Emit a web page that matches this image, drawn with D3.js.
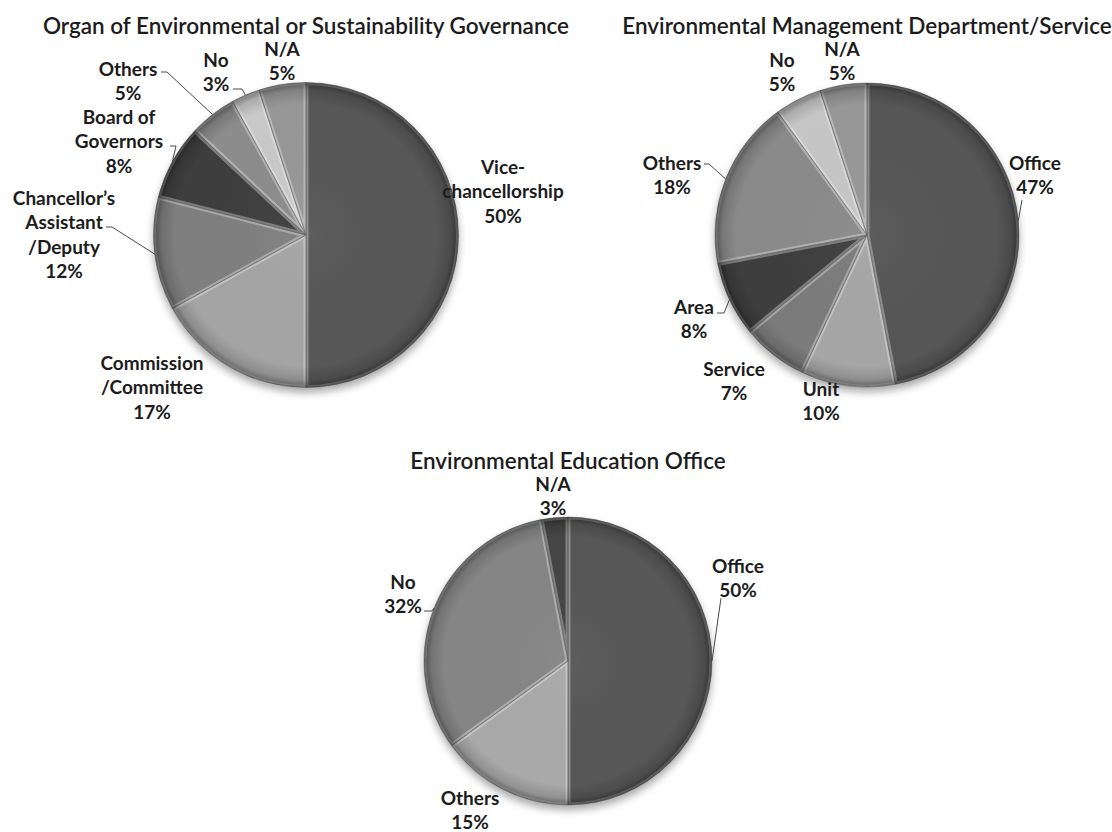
<!DOCTYPE html>
<html>
<head>
<meta charset="utf-8">
<script src="https://cdn.jsdelivr.net/npm/d3@7"></script>
<style>
  body { margin: 0; background: #fff; }
  svg text { font-family: Lato, "Open Sans", sans-serif; fill: #1c1c1c; }
</style>
</head>
<body>
<div id="chart"></div>
<script>
/* DATA */
const governanceTitle = "Organ of Environmental or Sustainability Governance";
const governanceCategories = ["Vice-chancellorship", "Commission/Committee", "Chancellor’s Assistant/Deputy", "Board of Governors", "Others", "No", "N/A"];
const governanceValues = [50, 17, 12, 8, 5, 3, 5];
const governanceLines = [["Vice-", "chancellorship"], ["Commission", "/Committee"], ["Chancellor’s", "Assistant", "/Deputy"], ["Board of", "Governors"], ["Others"], ["No"], ["N/A"]];

const departmentTitle = "Environmental Management Department/Service";
const departmentCategories = ["Office", "Unit", "Service", "Area", "Others", "No", "N/A"];
const departmentValues = [47, 10, 7, 8, 18, 5, 5];
const departmentLines = [["Office"], ["Unit"], ["Service"], ["Area"], ["Others"], ["No"], ["N/A"]];

const educationTitle = "Environmental Education Office";
const educationCategories = ["Office", "Others", "No", "N/A"];
const educationValues = [50, 15, 32, 3];
const educationLines = [["Office"], ["Others"], ["No"], ["N/A"]];

/* STYLES */
const governanceShades = ["#575757", "#a4a4a4", "#7f7f7f", "#3e3e3e", "#8c8c8c", "#c9c9c9", "#979797"];
const departmentShades = ["#565656", "#a6a6a6", "#7b7b7b", "#3e3e3e", "#8a8a8a", "#c6c6c6", "#979797"];
const educationShades = ["#575757", "#a9a9a9", "#858585", "#454545"];

/* LAYOUT - pie placement, label anchors (centre of first line) and leader starts */
const width = 1112, height = 832, lineGap = 24.5;

const charts = [
  {
    title: governanceTitle, cats: governanceCategories, values: governanceValues,
    lines: governanceLines, shades: governanceShades,
    cx: 306, cy: 235, r: 152.5, titleY: 25,
    labelPos: [[503, 166], [152, 362], [64, 197], [119, 116], [128, 68], [216, 59], [282, 48]],
    leaders: [
      { i: 2, pts: [[106, 227], [112, 227]] },
      { i: 3, pts: [[170, 146], [176, 146]] },
      { i: 4, pts: [[161, 72], [167, 72]] },
      { i: 5, pts: [[233, 89], [242, 89]] }
    ]
  },
  {
    title: departmentTitle, cats: departmentCategories, values: departmentValues,
    lines: departmentLines, shades: departmentShades,
    cx: 867, cy: 235, r: 152, titleY: 25,
    labelPos: [[1035, 162], [821, 388], [734, 368], [694, 306], [672, 162], [782, 59], [842, 48]],
    leaders: [
      { i: 0, pts: [[1022, 200]] },
      { i: 3, pts: [[717, 313], [724, 313]] },
      { i: 4, pts: [[704, 164], [709, 164]] }
    ]
  },
  {
    title: educationTitle, cats: educationCategories, values: educationValues,
    lines: educationLines, shades: educationShades,
    cx: 568, cy: 661, r: 144, titleY: 460,
    labelPos: [[738, 565], [470, 797], [403, 581], [553, 483]],
    leaders: [
      { i: 0, pts: [[721, 598]] },
      { i: 2, pts: [[424, 611], [432, 611]] }
    ]
  }
];

const svg = d3.select("#chart")
  .append("svg")
  .attr("width", width)
  .attr("height", height);

const defs = svg.append("defs");

defs.append("filter")
  .attr("id", "blur")
  .attr("x", "-20%").attr("y", "-20%").attr("width", "140%").attr("height", "140%")
  .append("feGaussianBlur")
  .attr("stdDeviation", 4);

// darker rim, like the bevel of the office chart
const rim = defs.append("radialGradient").attr("id", "rim");
rim.append("stop").attr("offset", "0%").attr("stop-color", "#fff").attr("stop-opacity", 0.04);
rim.append("stop").attr("offset", "86%").attr("stop-color", "#000").attr("stop-opacity", 0);
rim.append("stop").attr("offset", "95%").attr("stop-color", "#000").attr("stop-opacity", 0.14);
rim.append("stop").attr("offset", "100%").attr("stop-color", "#000").attr("stop-opacity", 0.42);

const pie = d3.pie().sort(null).value(d => d);

charts.forEach((c, k) => {
  const arcs = pie(c.values);
  const arc = d3.arc().innerRadius(0).outerRadius(c.r);
  const edge = d3.arc().innerRadius(c.r).outerRadius(c.r);
  const color = d3.scaleOrdinal().domain(c.cats).range(c.shades);

  const g = svg.append("g").attr("transform", `translate(${c.cx},${c.cy})`);

  // drop shadow
  g.append("circle")
    .attr("cy", 5)
    .attr("r", c.r)
    .attr("fill", "#000")
    .attr("opacity", 0.35)
    .attr("filter", "url(#blur)");

  // clip per slice so the light bevel stays inside
  arcs.forEach((d, i) => {
    defs.append("clipPath")
      .attr("id", `clip-${k}-${i}`)
      .append("path")
      .attr("d", arc(d));
  });

  g.selectAll("path.slice")
    .data(arcs)
    .join("path")
    .attr("class", "slice")
    .attr("d", arc)
    .attr("fill", (d, i) => color(c.cats[i]));

  g.selectAll("path.bevel")
    .data(arcs)
    .join("path")
    .attr("class", "bevel")
    .attr("d", arc)
    .attr("fill", "none")
    .attr("stroke", "#fff")
    .attr("stroke-opacity", 0.32)
    .attr("stroke-width", 5)
    .attr("clip-path", (d, i) => `url(#clip-${k}-${i})`);

  g.selectAll("path.sep")
    .data(arcs)
    .join("path")
    .attr("class", "sep")
    .attr("d", arc)
    .attr("fill", "none")
    .attr("stroke", "#5a5a5a")
    .attr("stroke-opacity", 0.55)
    .attr("stroke-width", 0.8);

  g.append("circle")
    .attr("r", c.r)
    .attr("fill", "url(#rim)");

  // leader lines: from the label to the rim at the middle of the slice
  c.leaders.forEach(l => {
    const end = edge.centroid(arcs[l.i]);
    const pts = l.pts.map(p => [p[0] - c.cx, p[1] - c.cy]).concat([end]);
    g.append("path")
      .attr("d", d3.line()(pts))
      .attr("fill", "none")
      .attr("stroke", "#4a4a4a")
      .attr("stroke-width", 1);
  });

  // title
  svg.append("text")
    .attr("x", c.cx)
    .attr("y", c.titleY)
    .attr("text-anchor", "middle")
    .attr("dominant-baseline", "central")
    .attr("font-size", 22.5)
    .attr("font-weight", 600)
    .text(c.title);

  // data labels
  arcs.forEach((d, i) => {
    const [x, y] = c.labelPos[i];
    const rows = c.lines[i].concat([`${c.values[i]}%`]);
    const t = svg.append("text")
      .attr("text-anchor", "middle")
      .attr("font-size", 19)
      .attr("font-weight", 700);
    rows.forEach((row, j) => {
      t.append("tspan")
        .attr("x", x)
        .attr("y", y + j * lineGap)
        .attr("dominant-baseline", "central")
        .text(row);
    });
  });
});
</script>
</body>
</html>
